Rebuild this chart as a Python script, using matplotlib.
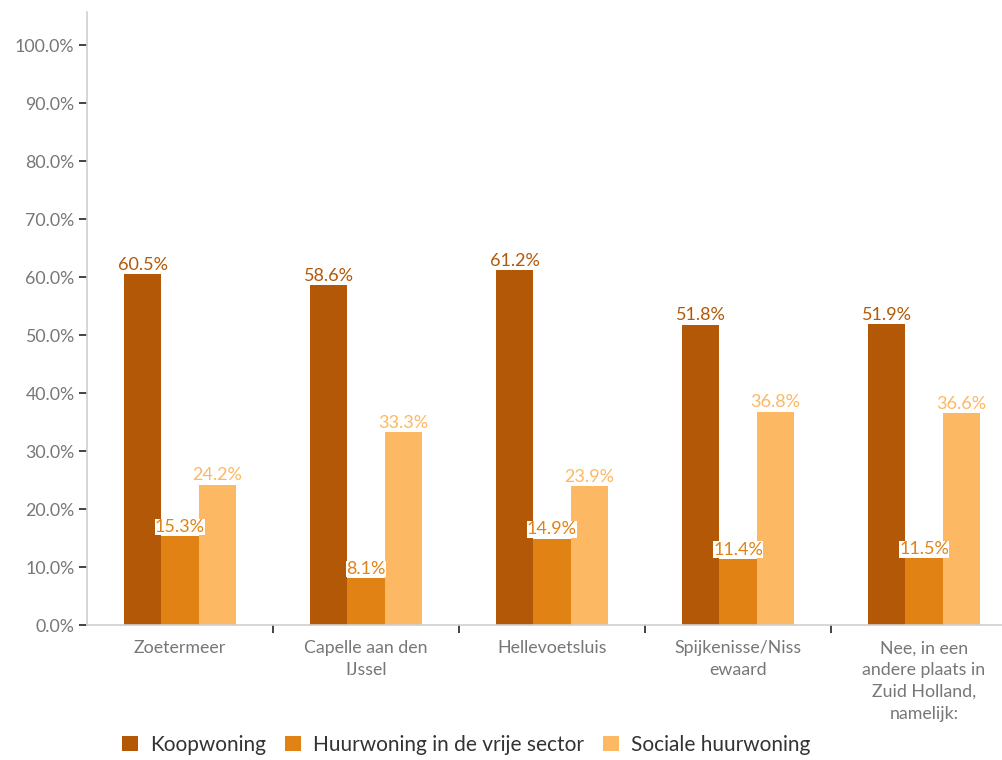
import numpy as np
import matplotlib
matplotlib.use("Agg")
import matplotlib.pyplot as plt

# woningtype per gemeente (percentages)
plaatsen = ["Zoetermeer", "Capelle aan den\nIJssel", "Hellevoetsluis",
            "Spijkenisse/Niss\newaard",
            "Nee, in een\nandere plaats in\nZuid Holland,\nnamelijk:"]
series = ["Koopwoning", "Huurwoning in de vrije sector", "Sociale huurwoning"]
koop = [60.5, 58.6, 61.2, 51.8, 51.9]
huur_vrij = [15.3, 8.1, 14.9, 11.4, 11.5]
sociaal = [24.2, 33.3, 23.9, 36.8, 36.6]
kleuren = ["#b35806", "#e08214", "#fdb863"]
yticks = np.arange(0, 101, 10)

plt.rcParams['font.family'] = ['Lato', 'DejaVu Sans']

fig = plt.figure(figsize=(10.03, 7.6), dpi=100)
ax = fig.add_axes([87/1003, 135/760, 930/1003, 613/760])

x = np.arange(len(plaatsen))
w = 0.2
for i, (vals, naam) in enumerate(zip([koop, huur_vrij, sociaal], series)):
    pos = x + (i - 1) * w
    ax.bar(pos, vals, width=w, color=kleuren[i], label=naam, zorder=2)
    for p, v in zip(pos, vals):
        ax.text(p, v + 0.2, f"{v:.1f}%", ha="center", va="bottom",
                fontsize=13, color=kleuren[i], zorder=3,
                bbox=dict(boxstyle="square,pad=0.02", fc="white", ec="none"))

ax.set_xlim(-0.5, 4.5)
ax.set_ylim(0, 105.7)
ax.set_yticks(yticks)
ax.set_yticklabels([f"{t:.1f}%" for t in yticks], fontsize=12.8, color="#777777")
ax.tick_params(axis="y", length=6, width=1.2, color="#222222", pad=3)

# groepsgrenzen als major ticks, namen als minor ticks
ax.set_xticks([0.5, 1.5, 2.5, 3.5, 4.5])
ax.set_xticklabels([])
ax.set_xticks(x, minor=True)
ax.set_xticklabels(plaatsen, minor=True, fontsize=12.8, color="#777777",
                   linespacing=1.45)
ax.tick_params(axis="x", which="major", length=6, width=1.2, color="#222222")
ax.tick_params(axis="x", which="minor", length=0, pad=11)

for s in ["top", "right"]:
    ax.spines[s].set_visible(False)
ax.spines["left"].set_color("#d0d0d0")
ax.spines["bottom"].set_color("#d0d0d0")
ax.spines["left"].set_linewidth(1.2)
ax.spines["bottom"].set_linewidth(1.2)

leg = fig.legend(loc="center left", bbox_to_anchor=(112/1003, 15/760), ncol=3,
                 frameon=False, fontsize=15, handlelength=0.75, handleheight=0.75,
                 handletextpad=0.6, columnspacing=0.9, borderpad=0)
for t in leg.get_texts():
    t.set_color("#333333")

fig.savefig("out.png", dpi=100)
